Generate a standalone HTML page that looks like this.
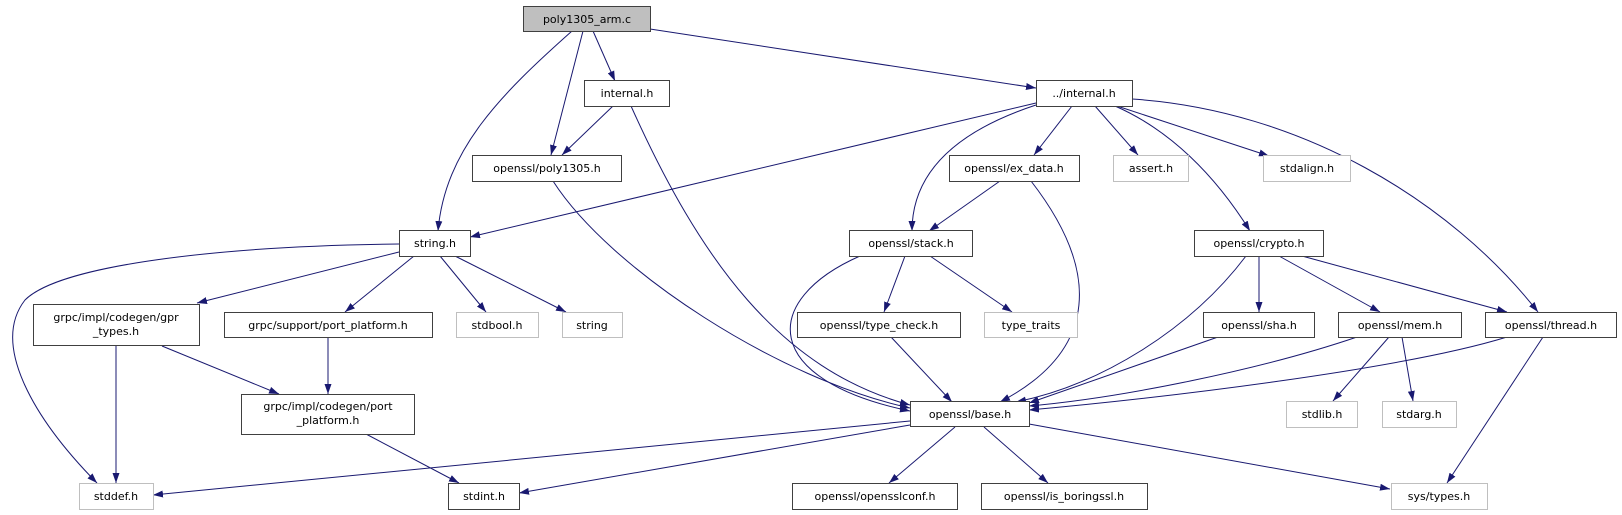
<!DOCTYPE html>
<html><head><meta charset="utf-8"><style>
html,body{margin:0;padding:0;background:#fff;width:1622px;height:515px;overflow:hidden}
svg text{font-family:"DejaVu Sans","Liberation Sans",sans-serif;font-size:11px;fill:#000;text-anchor:middle}
</style></head><body>
<svg width="1622" height="515" viewBox="0 0 1622 515" xmlns="http://www.w3.org/2000/svg">
<defs>
<marker id="a" markerUnits="userSpaceOnUse" markerWidth="11" markerHeight="8" refX="10" refY="3.5" orient="auto">
<path d="M0,0 L10,3.5 L0,7 z" fill="#191970"/>
</marker>
</defs>
<g fill="none" stroke="#191970" stroke-width="1" marker-end="url(#a)">
<path d="M572,31 C500,95 445,150 438,231"/>
<path d="M583,31 L551,155"/>
<path d="M593,31 L615,81"/>
<path d="M650,29 L1036,88"/>
<path d="M613,106 L562,155"/>
<path d="M631,106 C700,260 780,370 910,405"/>
<path d="M553,181 C610,270 780,380 910,408"/>
<path d="M1036,103 L470,237"/>
<path d="M1036,105 C960,130 912,170 912,231"/>
<path d="M1072,106 L1034,155"/>
<path d="M1095,106 L1138,155"/>
<path d="M1117,106 L1269,156"/>
<path d="M1115,106 C1170,130 1215,175 1250,231"/>
<path d="M1132,99 C1300,110 1450,200 1538,312"/>
<path d="M1000,181 L929,231"/>
<path d="M1031,181 C1100,270 1100,350 1000,402"/>
<path d="M860,256 C760,300 760,380 910,411"/>
<path d="M905,256 L884,312"/>
<path d="M930,256 L1012,312"/>
<path d="M1246,256 C1190,330 1100,385 1016,402"/>
<path d="M1259,256 L1259,312"/>
<path d="M1279,256 L1380,312"/>
<path d="M1302,256 L1507,312"/>
<path d="M891,337 L952,402"/>
<path d="M1218,337 L1029,403"/>
<path d="M1357,337 C1260,370 1120,398 1029,406"/>
<path d="M1507,337 C1400,370 1160,398 1029,410"/>
<path d="M1389,337 L1333,401"/>
<path d="M1402,337 L1413,401"/>
<path d="M1543,337 L1447,483"/>
<path d="M1029,424 L1390,489"/>
<path d="M955,427 L889,483"/>
<path d="M984,427 L1048,483"/>
<path d="M910,421 L153,495"/>
<path d="M910,425 L519,493"/>
<path d="M399,244 C220,246 60,265 25,300 C-10,345 35,420 97,483"/>
<path d="M399,252 L197,303"/>
<path d="M414,256 L345,312"/>
<path d="M440,256 L486,312"/>
<path d="M455,256 L566,312"/>
<path d="M116,346 L116,483"/>
<path d="M162,346 L279,394"/>
<path d="M328,337 L328,394"/>
<path d="M366,434 L459,483"/>
</g>
<g stroke-width="1">
<rect x="523.5" y="6.5" width="127" height="25" fill="#bfbfbf" stroke="#404040"/>
<g fill="#fff" stroke="#404040">
<rect x="584.5" y="80.5" width="85" height="26"/>
<rect x="1036.5" y="80.5" width="96" height="26"/>
<rect x="472.5" y="155.5" width="149" height="26"/>
<rect x="949.5" y="155.5" width="130" height="26"/>
<rect x="399.5" y="230.5" width="71" height="26"/>
<rect x="849.5" y="230.5" width="123" height="26"/>
<rect x="1194.5" y="230.5" width="129" height="26"/>
<rect x="33.5" y="304.5" width="166" height="41"/>
<rect x="224.5" y="312.5" width="208" height="25"/>
<rect x="797.5" y="312.5" width="163" height="25"/>
<rect x="1203.5" y="312.5" width="111" height="25"/>
<rect x="1338.5" y="312.5" width="123" height="25"/>
<rect x="1485.5" y="312.5" width="131" height="25"/>
<rect x="241.5" y="394.5" width="173" height="40"/>
<rect x="910.5" y="401.5" width="119" height="25"/>
<rect x="448.5" y="483.5" width="71" height="26"/>
<rect x="792.5" y="483.5" width="165" height="26"/>
<rect x="981.5" y="483.5" width="166" height="26"/>
</g>
<g fill="#fff" stroke="#bfbfbf">
<rect x="1113.5" y="155.5" width="75" height="26"/>
<rect x="1263.5" y="155.5" width="87" height="26"/>
<rect x="456.5" y="312.5" width="82" height="25"/>
<rect x="562.5" y="312.5" width="60" height="25"/>
<rect x="984.5" y="312.5" width="93" height="25"/>
<rect x="1286.5" y="401.5" width="71" height="26"/>
<rect x="1382.5" y="401.5" width="74" height="26"/>
<rect x="79.5" y="483.5" width="74" height="26"/>
<rect x="1391.5" y="483.5" width="96" height="26"/>
</g>
</g>
<text x="587" y="23">poly1305_arm.c</text>
<text x="627" y="97">internal.h</text>
<text x="1084" y="97">../internal.h</text>
<text x="547" y="172">openssl/poly1305.h</text>
<text x="1014" y="172">openssl/ex_data.h</text>
<text x="1151" y="172">assert.h</text>
<text x="1307" y="172">stdalign.h</text>
<text x="435" y="247">string.h</text>
<text x="911" y="247">openssl/stack.h</text>
<text x="1259" y="247">openssl/crypto.h</text>
<text x="116" y="321">grpc/impl/codegen/gpr</text>
<text x="116" y="335">_types.h</text>
<text x="328" y="329">grpc/support/port_platform.h</text>
<text x="497" y="329">stdbool.h</text>
<text x="592" y="329">string</text>
<text x="879" y="329">openssl/type_check.h</text>
<text x="1031" y="329">type_traits</text>
<text x="1259" y="329">openssl/sha.h</text>
<text x="1400" y="329">openssl/mem.h</text>
<text x="1551" y="329">openssl/thread.h</text>
<text x="328" y="410">grpc/impl/codegen/port</text>
<text x="328" y="424">_platform.h</text>
<text x="970" y="418">openssl/base.h</text>
<text x="1322" y="418">stdlib.h</text>
<text x="1419" y="418">stdarg.h</text>
<text x="116" y="500">stddef.h</text>
<text x="484" y="500">stdint.h</text>
<text x="875" y="500">openssl/opensslconf.h</text>
<text x="1064" y="500">openssl/is_boringssl.h</text>
<text x="1439" y="500">sys/types.h</text>
</svg>
</body></html>
